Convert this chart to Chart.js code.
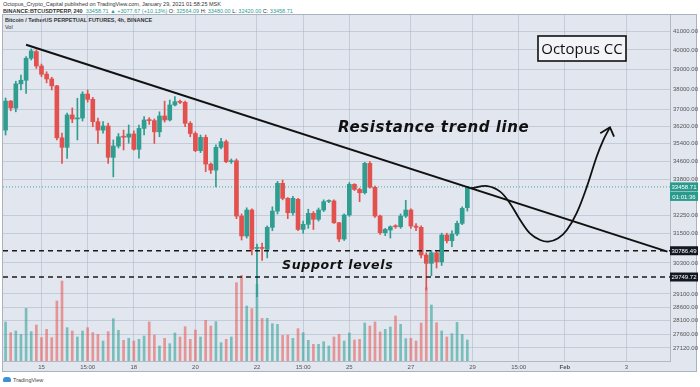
<!DOCTYPE html>
<html><head><meta charset="utf-8">
<script src="https://cdn.jsdelivr.net/npm/chart.js@4"></script>
<style>
html,body{margin:0;padding:0;background:#fff;width:700px;height:387px;overflow:hidden;font-family:"Liberation Sans",Arial,sans-serif;}
#frame{position:absolute;left:2px;top:14px;width:695px;height:358px;background:#e1e6ef;border:1px solid #aab2bf;box-sizing:border-box;}
#c{position:absolute;left:0;top:0;}
.t{position:absolute;white-space:nowrap;font-size:5.5px;color:#333;line-height:1;}
.g{color:#2f9d90}
#logo{position:absolute;left:3px;top:377px;width:8px;height:5px;background:#3d8fd6;border-radius:3px 3px 1px 1px;}
</style></head>
<body>
<div class="t" style="left:3px;top:2px;">Octopus_Crypto_Capital published on TradingView.com, January 29, 2021 01:58:25 MSK</div>
<div class="t" style="left:3px;top:8.5px;"><b>BINANCE:BTCUSDTPERP, 240</b> &nbsp;<span class="g">33458.71 ▲ +3077.67 (+10.13%)</span> O: <span class="g">32564.09</span> H: <span class="g">33480.00</span> L: <span class="g">32420.00</span> C: <span class="g">33458.71</span></div>
<div id="frame"></div>
<div class="t" style="left:5px;top:18px;font-weight:bold;">Bitcoin / TetherUS PERPETUAL FUTURES, 4h, BINANCE</div>
<div class="t" style="left:5px;top:25px;">Vol</div>
<div id="logo"></div>
<div class="t" style="left:13px;top:377.5px;color:#444;">TradingView</div>
<canvas id="c" width="700" height="387"></canvas>
<script>
// ---- data ----
const SLOTS = 130;
const xTickSlots = [7,16,25,37,49,58,67,79,91,100,109,121];
const xTickTexts = ['15','15:00','18','20','22','15:00','25','27','29','15:00','Feb','3'];
const priceTicks = [41000,40000,39000,38000,37000,36200,35400,34600,33800,32250,31500,30300,29100,28600,28100,27600,27120];

const opens = [36030,37420,37080,38270,38450,39570,39915,39170,38760,38515,38170,35670,35230,36750,36560,36600,37765,37505,36430,36030,36225,34775,35290,35720,35700,35850,35140,36110,36510,36480,35950,36700,36510,37230,37390,37360,36350,35870,35080,35690,34470,34200,35230,35490,34575,
 34620,32210,31385,32465,30880,30920,30845,31740,32420,33615,32965,32350,32920,31655,31865,32325,32075,32465,32830,32850,31930,31260,32255,33570,33350,33205,34500,33440,32210,31520,31630,31780,31765,32210,32465,31795,31740,30615,30285,30705,30345,31425,31190,31465,31905,32564.09];
const highs = [37570,37450,38400,38715,39650,40050,40000,39270,38880,38600,38200,35890,36845,37085,37560,37880,37965,37600,36600,36430,36360,35570,35870,36030,36270,36000,36270,36670,36620,36560,36900,37420,37470,37640,37470,37420,36430,35950,35800,35800,34520,35340,35650,35570,34700,
 34700,32300,32560,32520,31050,31100,31800,32600,33700,33760,33000,33050,32965,32000,32500,32400,32550,32900,32900,32900,31950,32300,33650,33600,33400,34550,34580,33500,32250,31700,31800,31850,32300,32880,32520,31900,31800,30700,30800,30750,31500,31500,31600,32000,32600,33480];
const lows = [35800,36950,36900,37965,37800,39480,39050,38630,38320,37965,35570,34500,34730,36380,35570,36460,37370,36190,35410,35890,34500,33900,35200,35110,35420,35100,34740,35800,36300,35410,35720,36410,36460,37180,37300,36190,35720,35030,34990,34130,34050,33460,35160,34530,34500,
 32100,31220,31300,30620,29000,30400,30500,31600,32300,32900,32100,32250,31600,31500,31700,31650,32000,32400,32780,31900,31150,31200,32200,33300,32820,33150,33400,32150,31450,31400,31300,31700,31700,32150,31700,31600,30500,29250,29800,30100,30200,31100,30950,31400,31850,32420];
const closes = [37420,37085,38270,38450,39570,39950,39170,38750,38515,38170,35670,35230,36750,36555,36600,37765,37505,36430,36030,36225,34775,35290,35720,35700,35850,35140,36110,36510,36480,35950,36700,36510,37230,37390,37360,36350,35870,35080,35690,34470,34200,35230,35490,34575,34620,
 32210,31385,32465,30845,30920,30880,31740,32420,33615,32965,32350,32965,31655,31865,32325,32075,32465,32820,32850,31930,31260,32255,33570,33350,33205,34500,33440,32210,31520,31655,31765,31765,32210,32465,31795,31740,30615,30285,30705,30345,31425,31190,31465,31905,32535,33458.71];
const volumes = [11.7,8.5,9.0,8.0,15.8,8.8,10.8,7.0,9.5,7.0,18.0,24.0,10.0,9.0,7.2,9.0,10.0,8.5,8.0,6.0,8.8,12.7,9.2,6.2,6.8,6.0,6.5,7.5,11.7,7.8,4.5,6.8,5.2,8.4,7.2,10.3,6.5,9.3,7.2,12.2,10.5,11.8,5.5,6.5,7.2,
 23.5,25.7,16.5,15.7,23.0,12.8,12.8,11.2,11.0,7.7,7.8,6.8,9.7,8.5,6.2,5.0,5.0,5.8,4.5,7.2,8.0,6.0,8.4,6.3,6.5,11.4,10.5,11.7,8.7,9.5,10.2,13.5,11.0,6.7,6.8,6.0,11.4,22.0,16.8,11.5,9.0,7.2,8.2,11.6,8.0,6.3];

// ---- drawn annotations ----
const lastPrice = 33458.71;
const countdown = '01:01:36';
const supportLevels = [30786.49, 29749.72];
const trendSlots = [4, 129];
const trendPrices = [40274, 30750];
const pathSlots = [90.8,93.9,96.4,98.3,100.3,102.2,104.2,105.8,107.7,109.4,111.3,113.3,115.2,116.5,117.8];
const pathPrices = [33400,33497,33252,32752,32045,31493,31222,31153,31290,31630,32329,33469,34802,35568,36163];
const arrowSlots = [115.9,117.8,118.6];
const arrowPrices = [35880,36163,35725];
const resistanceLabel = {text:'Resistance trend line', slot:64.8, price:36130, size:15};
const supportLabel = {text:'Support levels', slot:53.9, price:30180, size:12.6};
const brandLabel = 'Octopus CC';

// ---- styles ----
const UP = '#2f9d90', DOWN = '#e2514d';
const UPV = 'rgba(47,160,148,0.58)', DOWNV = 'rgba(232,90,86,0.58)';
const GRID = 'rgba(168,178,196,0.5)';

const labels = Array.from({length:SLOTS}, (_, i) => { const k = xTickSlots.indexOf(i); return k >= 0 ? xTickTexts[k] : ''; });
const up = closes.map((c, i) => c >= opens[i]);
const cColors = up.map(u => u ? UP : DOWN);
const vColors = up.map(u => u ? UPV : DOWNV);
const pts = (xs, ys) => xs.map((x, i) => ({x, y: ys[i]}));
const full = v => [{x:-0.5, y:v}, {x:SLOTS-0.5, y:v}];

const lineBase = {type:'line', xAxisID:'xl', yAxisID:'y', pointRadius:0, fill:false};

const annot = {
  id:'annot',
  afterDatasetsDraw(chart){
    const {ctx, chartArea:a} = chart;
    const y = chart.scales.y, xl = chart.scales.xl;
    ctx.save();
    ctx.fillStyle = '#111';
    ctx.textBaseline = 'middle';
    ctx.textAlign = 'left';
    try { ctx.letterSpacing = '0.6px'; } catch(e) {}
    [resistanceLabel, supportLabel].forEach(l => {
      ctx.font = 'italic bold ' + l.size + 'px "DejaVu Sans"';
      ctx.fillText(l.text, xl.getPixelForValue(l.slot), y.getPixelForValue(l.price));
    });
    try { ctx.letterSpacing = '0px'; } catch(e) {}
    // brand box
    const bx = a.right - 132, by = a.top + 21, bw = 88, bh = 25;
    ctx.fillStyle = '#f2f4f8';
    ctx.fillRect(bx, by, bw, bh);
    ctx.strokeStyle = '#111'; ctx.lineWidth = 1.6;
    ctx.strokeRect(bx, by, bw, bh);
    ctx.fillStyle = '#111';
    ctx.font = '15px "Open Sans"';
    ctx.textAlign = 'center';
    ctx.fillText(brandLabel, bx + bw/2, by + bh/2 + 1);
    ctx.restore();
  },
  afterDraw(chart){
    const {ctx, chartArea:a} = chart;
    const y = chart.scales.y;
    const x0 = a.right, w = 28, h = 9;
    ctx.save();
    ctx.font = '6px "Liberation Sans"';
    ctx.textAlign = 'center'; ctx.textBaseline = 'middle';
    const tag = (py, bg, txt) => { ctx.fillStyle = bg; ctx.fillRect(x0, py - h/2, w, h); ctx.fillStyle = '#fff'; ctx.fillText(txt, x0 + w/2, py + 0.5); };
    const lp = y.getPixelForValue(lastPrice);
    tag(lp, '#2a9a8d', lastPrice.toFixed(2));
    tag(lp + h + 0.5, '#2a9a8d', countdown);
    supportLevels.forEach(v => tag(y.getPixelForValue(v), '#131722', v.toFixed(2)));
    ctx.restore();
  }
};

new Chart(document.getElementById('c'), {
  type:'bar',
  data:{
    labels,
    datasets:[
      {...lineBase, label:'trend', data:pts(trendSlots, trendPrices), borderColor:'#111', borderWidth:2, order:1},
      {...lineBase, label:'path', data:pts(pathSlots, pathPrices), borderColor:'#111', borderWidth:1.8, tension:0.35, order:1},
      {...lineBase, label:'arrow', data:pts(arrowSlots, arrowPrices), borderColor:'#111', borderWidth:1.8, order:1},
      {...lineBase, label:'s1', data:full(supportLevels[0]), borderColor:'#1b1b1b', borderWidth:1.3, borderDash:[5,4], order:2},
      {...lineBase, label:'s2', data:full(supportLevels[1]), borderColor:'#1b1b1b', borderWidth:1.3, borderDash:[5,4], order:2},
      {...lineBase, label:'last', data:full(lastPrice), borderColor:'rgba(42,154,141,0.8)', borderWidth:1, borderDash:[1,2], order:3},
      {type:'bar', label:'body', data:opens.map((o, i) => [o, closes[i]]), yAxisID:'y', backgroundColor:cColors, barThickness:4, minBarLength:1, grouped:false, order:4},
      {type:'bar', label:'wick', data:lows.map((l, i) => [l, highs[i]]), yAxisID:'y', backgroundColor:cColors, barThickness:1, grouped:false, order:5},
      {type:'bar', label:'Vol', data:volumes, yAxisID:'yv', backgroundColor:vColors, barThickness:2, grouped:false, order:10}
    ]
  },
  options:{
    responsive:false, animation:false,
    layout:{padding:{left:3, top:15, right:0, bottom:14}},
    plugins:{legend:{display:false}, tooltip:{enabled:false}},
    scales:{
      x:{
        type:'category', offset:true,
        grid:{offset:false, drawTicks:false, color:ctx => (ctx.tick && ctx.tick.label) ? GRID : 'rgba(0,0,0,0)'},
        border:{display:true, color:'#b3bac6'},
        ticks:{autoSkip:false, maxRotation:0, minRotation:0, padding:3, color:'#555',
          font:ctx => ({family:'Liberation Sans', size:6, weight: (ctx.tick && ctx.tick.label === 'Feb') ? 'bold' : 'normal'})},
        afterFit:s => { s.height = 12; }
      },
      xl:{type:'linear', display:false, offset:false, bounds:'ticks', min:-0.5, max:SLOTS-0.5, grid:{offset:false}},
      y:{
        type:'logarithmic', position:'right', min:26664, max:41865,
        afterBuildTicks:s => { s.ticks = priceTicks.map(v => ({value:v})); },
        ticks:{callback:v => Number(v).toFixed(2), color:'#555', padding:3, font:{family:'Liberation Sans', size:6}},
        grid:{color:GRID, drawTicks:false},
        border:{display:true, color:'#b3bac6'},
        afterFit:s => { s.width = 30; }
      },
      yv:{type:'linear', display:false, min:0, max:103.8}
    }
  },
  plugins:[annot]
});
</script>
</body></html>
